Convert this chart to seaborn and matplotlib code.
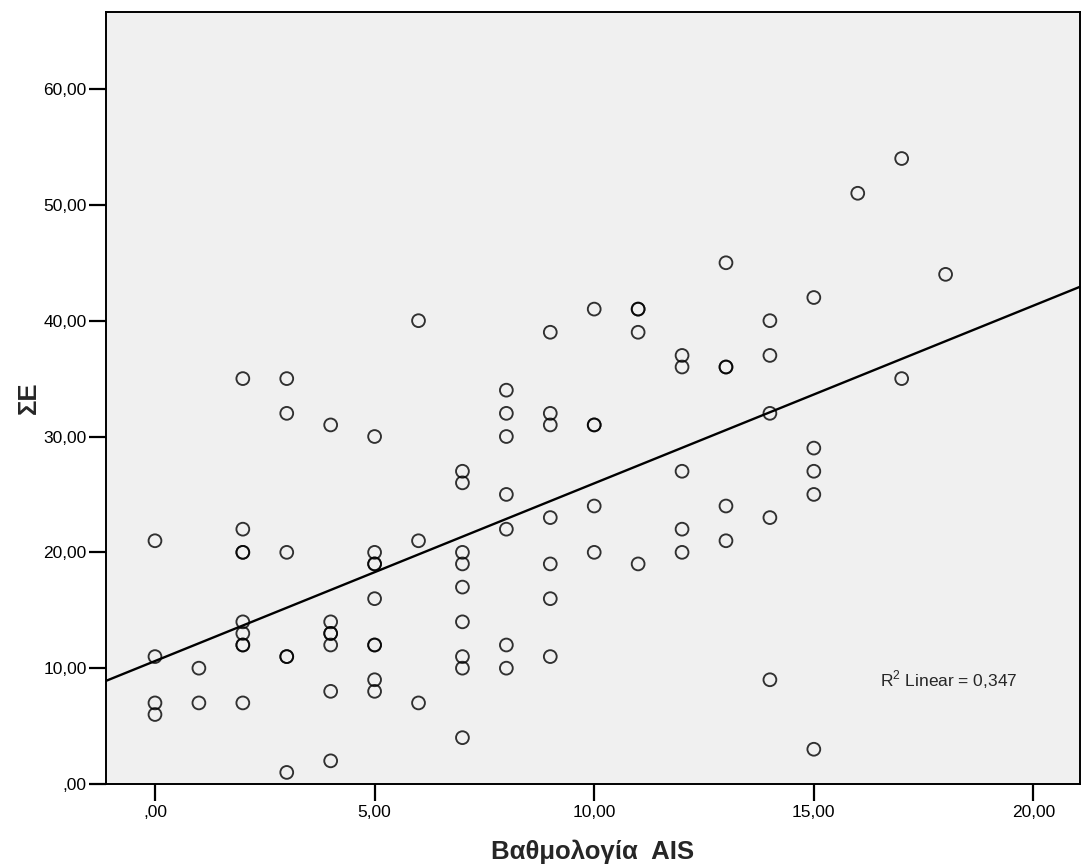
import numpy as np
import pandas as pd
import seaborn as sns
import matplotlib.pyplot as plt
from matplotlib.ticker import FuncFormatter

# Βαθμολογία AIS (x) και ΣΕ (y), διαβασμένα από το γράφημα, ομαδοποιημένα ανά τιμή x
ais = ([0] * 4 + [1] * 2 + [2] * 9 + [3] * 6 + [4] * 7 + [5] * 9 + [6] * 3
       + [7] * 9 + [8] * 7 + [9] * 7 + [10] * 5 + [11] * 4 + [12] * 5
       + [13] * 5 + [14] * 5 + [15] * 5 + [16] * 1 + [17] * 2 + [18] * 1)
se = [21, 11, 7, 6,
      10, 7,
      35, 22, 20, 20, 14, 13, 12, 12, 7,
      35, 32, 20, 11, 11, 1,
      31, 14, 13, 13, 12, 8, 2,
      30, 20, 19, 19, 16, 12, 12, 9, 8,
      40, 21, 7,
      27, 26, 20, 19, 17, 14, 11, 10, 4,
      34, 32, 30, 25, 22, 12, 10,
      39, 32, 31, 23, 19, 16, 11,
      41, 31, 31, 24, 20,
      41, 41, 39, 19,
      37, 36, 27, 22, 20,
      45, 36, 36, 24, 21,
      40, 37, 32, 23, 9,
      42, 29, 27, 25, 3,
      51,
      54, 35,
      44]
x_ticks = [0, 5, 10, 15, 20]
y_ticks = [0, 10, 20, 30, 40, 50, 60]
r2_text = "R$^2$ Linear = 0,347"

df = pd.DataFrame({"ais": ais, "se": se})

sns.set_style("ticks")
plt.rcParams['font.family'] = ['Liberation Sans', 'DejaVu Sans']
plt.rcParams['mathtext.fontset'] = 'custom'
plt.rcParams['mathtext.rm'] = 'Liberation Sans'

W, H = 1081, 867
fig = plt.figure(figsize=(W / 100, H / 100), dpi=100)
ax = fig.add_axes([106 / W, 1 - 784 / H, (1080 - 106) / W, (784 - 12) / H])
ax.set_facecolor("#F0F0F0")

# limites antes de regplot para que la recta llegue a los bordes
ax.set_xlim(-1.115, 21.06)
ax.set_ylim(0, 66.65)

sns.regplot(data=df, x="ais", y="se", ax=ax, ci=None, truncate=False, color="black",
            scatter_kws={"s": 85, "facecolors": "none", "edgecolors": "black", "linewidths": 1.35},
            line_kws={"linewidth": 1.7})
ax.set_xlim(-1.115, 21.06)
ax.set_ylim(0, 66.65)

def fmt(v, pos):
    s = f"{v:.2f}".replace(".", ",")
    if s.startswith("0,"):
        s = s[1:]
    return s

ax.set_xticks(x_ticks)
ax.set_yticks(y_ticks)
ax.xaxis.set_major_formatter(FuncFormatter(fmt))
ax.yaxis.set_major_formatter(FuncFormatter(fmt))
ax.tick_params(axis="both", direction="out", length=12, width=1.6, labelsize=12.5, colors="black", pad=2)
ax.tick_params(axis="x", pad=3)

for sp in ax.spines.values():
    sp.set_visible(True)
    sp.set_linewidth(1.4)
    sp.set_color("black")

ax.set_xlabel("Βαθμολογία  AIS", fontsize=18.5, fontweight="bold", labelpad=14)
ax.set_ylabel("ΣΕ", fontsize=18.5, fontweight="bold", labelpad=2)

ax.text(16.5, 9.0, r2_text, fontsize=12.5, ha="left", va="center")

fig.savefig("out.png", dpi=100)
